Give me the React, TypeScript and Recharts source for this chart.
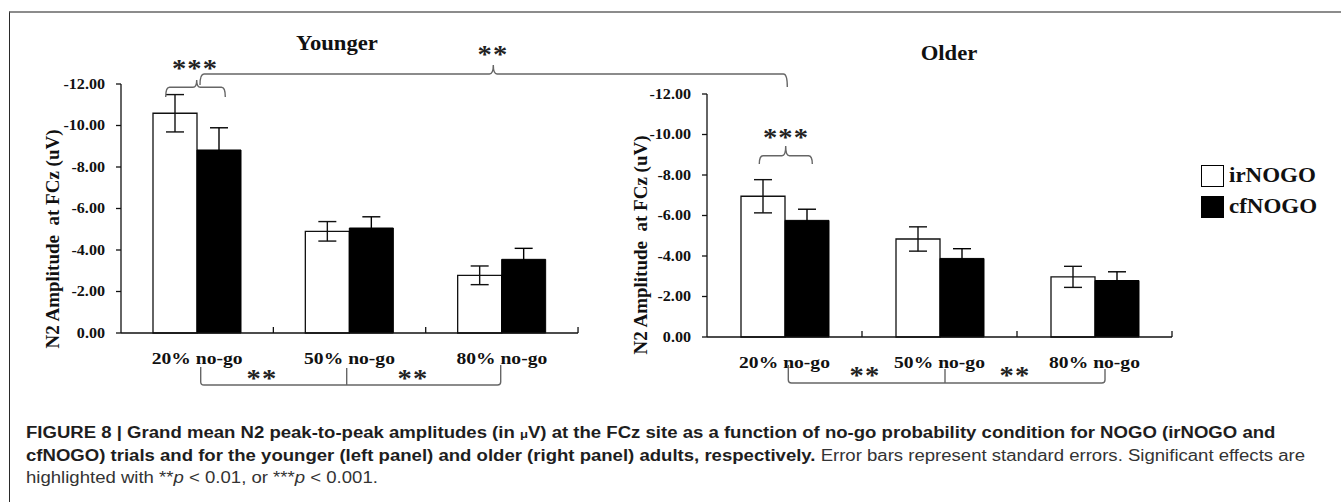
import React from 'react';
import { BarChart, Bar, XAxis, YAxis, ErrorBar, Legend } from 'recharts';

const SERIF = '"Liberation Serif", "Times New Roman", serif';
const SANS = '"Liberation Sans", Arial, Helvetica, sans-serif';

const categories = ['20% no-go', '50% no-go', '80% no-go'];
const seriesNames = ['irNOGO', 'cfNOGO'];
const yTicks = [-12, -10, -8, -6, -4, -2, 0];

// younger adults: N2 amplitude at FCz (uV) and standard errors
const youngerIr = [-10.59, -4.9, -2.78];
const youngerIrSe = [0.9, 0.47, 0.45];
const youngerCf = [-8.82, -5.06, -3.55];
const youngerCfSe = [1.07, 0.54, 0.53];

// older adults
const olderIr = [-6.95, -4.84, -2.97];
const olderIrSe = [0.82, 0.6, 0.52];
const olderCf = [-5.76, -3.88, -2.79];
const olderCfSe = [0.55, 0.48, 0.43];

const buildRows = (ir: number[], irSe: number[], cf: number[], cfSe: number[]) =>
  categories.map((name, i) => ({ name, ir: ir[i], irSe: irSe[i], cf: cf[i], cfSe: cfSe[i] }));

const youngerRows = buildRows(youngerIr, youngerIrSe, youngerCf, youngerCfSe);
const olderRows = buildRows(olderIr, olderIrSe, olderCf, olderCfSe);

const YTick = (props: any) => {
  const { x, y, payload } = props;
  return (
    <text
      transform={`translate(${x},${y}) scale(1.15,1)`}
      textAnchor="end"
      dominantBaseline="central"
      fontFamily={SERIF}
      fontWeight="bold"
      fontSize={14}
      fill="#111"
    >
      {Number(payload.value).toFixed(2)}
    </text>
  );
};

// category label plus the boundary tick to its right (Excel style)
const makeXTick = (halfBand: number) => (props: any) => {
  const { x, y, payload } = props;
  return (
    <g>
      <line x1={x + halfBand} x2={x + halfBand} y1={y} y2={y - 6} stroke="#111" strokeWidth={1.3} />
      <text
        transform={`translate(${x},${y + 25}) scale(1.12,1)`}
        textAnchor="middle"
        dominantBaseline="central"
        fontFamily={SERIF}
        fontWeight="bold"
        fontSize={17.5}
        fill="#111"
      >
        {payload.value}
      </text>
    </g>
  );
};

const LegendBox = ({ payload }: any) => {
  const items = [...(payload || [])].sort(
    (a: any, b: any) => seriesNames.indexOf(a.value) - seriesNames.indexOf(b.value)
  );
  return (
    <div style={{ fontFamily: SERIF, fontWeight: 'bold', fontSize: 20, color: '#111' }}>
      {items.map((entry: any) => (
        <div key={entry.value} style={{ display: 'flex', alignItems: 'center', height: 31 }}>
          <span
            style={{
              display: 'inline-block',
              width: 23,
              height: 22,
              boxSizing: 'border-box',
              border: '1.3px solid #000',
              background: entry.color,
              marginRight: 5,
            }}
          />
          <span style={{ display: 'inline-block', transform: 'scaleX(1.15)', transformOrigin: 'left center' }}>
            {entry.value}
          </span>
        </div>
      ))}
    </div>
  );
};

const Panel = ({ rows, width, margin, yWidth, halfBand, legend }: any) => (
  <BarChart width={width} height={400} data={rows} margin={margin} barGap={0}>
    <XAxis
      dataKey="name"
      interval={0}
      height={30}
      tickSize={0}
      tickMargin={0}
      tickLine={false}
      axisLine={{ stroke: '#111', strokeWidth: 1.3 }}
      tick={makeXTick(halfBand)}
    />
    <YAxis
      type="number"
      domain={[-12, 0]}
      ticks={yTicks}
      reversed
      width={yWidth}
      tickSize={5}
      tickMargin={11}
      axisLine={{ stroke: '#111', strokeWidth: 1.3 }}
      tickLine={{ stroke: '#111', strokeWidth: 1.3 }}
      tick={YTick}
    />
    {legend && (
      <Legend
        layout="vertical"
        align="center"
        verticalAlign="middle"
        content={LegendBox}
        wrapperStyle={{ position: 'absolute', left: 601, top: 160, width: 140 }}
      />
    )}
    <Bar dataKey="ir" name="irNOGO" fill="#ffffff" stroke="#111" strokeWidth={1.3} barSize={44} isAnimationActive={false}>
      <ErrorBar dataKey="irSe" width={9} stroke="#111" strokeWidth={1.4} isAnimationActive={false} />
    </Bar>
    <Bar dataKey="cf" name="cfNOGO" fill="#000000" stroke="#000" strokeWidth={1} barSize={44} isAnimationActive={false}>
      <ErrorBar dataKey="cfSe" width={9} stroke="#000" strokeWidth={1.4} isAnimationActive={false} />
    </Bar>
  </BarChart>
);

const Stars = ({ x, y, n }: { x: number; y: number; n: number }) => (
  <text
    transform={`translate(${x},${y + 14}) scale(1.1,1)`}
    textAnchor="middle"
    fontFamily={SERIF}
    fontWeight="bold"
    fontSize={26}
    letterSpacing={1}
    fill="#222"
  >
    {'*'.repeat(n)}
  </text>
);

const Annotations = () => {
  const br = { fill: 'none', stroke: '#666', strokeWidth: 1.4 };
  const title = { textAnchor: 'middle' as const, dominantBaseline: 'central' as const, fontFamily: SERIF, fontWeight: 'bold', fill: '#111' };
  return (
    <svg width={1341} height={502} style={{ position: 'absolute', left: 0, top: 0, pointerEvents: 'none' }}>
      <text transform="translate(337,43) scale(1.08,1)" fontSize={21} {...title}>
        Younger
      </text>
      <text transform="translate(949,53) scale(1.08,1)" fontSize={21} {...title}>
        Older
      </text>
      <text transform="translate(52,239) rotate(-90)" fontSize={19} {...title}>
        N2 Amplitude{'\u00a0'} at FCz (uV)
      </text>
      <text transform="translate(640,245) rotate(-90)" fontSize={19} {...title}>
        N2 Amplitude{'\u00a0'} at FCz (uV)
      </text>

      {/* younger 20%: irNOGO vs cfNOGO */}
      <path d="M165.7,97 Q165.7,87.3 169.5,87.3 L193,87.3 Q196.7,87.3 196.7,80 Q196.7,87.3 200.4,87.3 L221.5,87.3 Q225.3,87.3 225.3,97" {...br} />
      <Stars x={195} y={63} n={3} />
      {/* younger vs older */}
      <path d="M200,85 Q200,74 204,74 L489.5,74 Q493.3,74 493.3,65 Q493.3,74 497,74 L783.5,74 Q787.3,74 787.3,87" {...br} />
      <Stars x={493} y={49} n={2} />
      {/* older 20%: irNOGO vs cfNOGO */}
      <path d="M759.3,164 Q759.3,155.7 763,155.7 L782,155.7 Q785.7,155.7 785.7,146 Q785.7,155.7 789.4,155.7 L808.5,155.7 Q812.3,155.7 812.3,164" {...br} />
      <Stars x={786} y={132} n={3} />

      {/* younger: probability effects */}
      <path d="M200.7,367 L200.7,382 Q200.7,385 204,385 L497.5,385 Q500.7,385 500.7,382 L500.7,365 M346.7,385 L346.7,368" {...br} />
      <Stars x={262} y={373} n={2} />
      <Stars x={413} y={373} n={2} />
      {/* older: probability effects */}
      <path d="M788.3,365 L788.3,380 Q788.3,383 791.5,383 L1101.8,383 Q1105,383 1105,380 L1105,369 M945,383 L945,369" {...br} />
      <Stars x={865} y={370} n={2} />
      <Stars x={1015} y={370} n={2} />
    </svg>
  );
};

export default function App() {
  return (
    <div style={{ position: 'absolute', left: 0, top: 0, width: 1341, height: 502, background: '#fff', overflow: 'hidden' }}>
      <div
        style={{
          position: 'absolute',
          left: 9,
          top: 11,
          width: 1332,
          height: 491,
          borderTop: '2px solid #8c8c8c',
          borderLeft: '1.5px solid #2a2a2a',
          boxSizing: 'border-box',
        }}
      />
      <div style={{ position: 'absolute', left: 0, top: 0 }}>
        <Panel rows={youngerRows} width={600} margin={{ top: 84, right: 22, bottom: 37, left: 0 }} yWidth={121} halfBand={76.2} />
      </div>
      <div style={{ position: 'absolute', left: 600, top: 0 }}>
        <Panel rows={olderRows} width={741} margin={{ top: 94, right: 169, bottom: 33, left: 0 }} yWidth={107} halfBand={77.5} legend />
      </div>
      <Annotations />
      <div
        style={{
          position: 'absolute',
          left: 26,
          top: 422,
          fontFamily: SANS,
          fontSize: 15.6,
          lineHeight: '22px',
          color: '#333',
          whiteSpace: 'nowrap',
          transform: 'scaleX(1.19)',
          transformOrigin: 'left top',
        }}
      >
        <b style={{ color: '#1e1e1e' }}>
          FIGURE 8 | Grand mean N2 peak-to-peak amplitudes (in <span style={{ fontSize: 11 }}>μ</span>V) at the FCz site as a function of no-go probability condition for NOGO (irNOGO and
        </b>
        <br />
        <b style={{ color: '#1e1e1e' }}>cfNOGO) trials and for the younger (left panel) and older (right panel) adults, respectively.</b> Error bars represent standard errors. Significant effects are
        <br />
        highlighted with **<i>p</i> &lt; 0.01, or ***<i>p</i> &lt; 0.001.
      </div>
    </div>
  );
}
